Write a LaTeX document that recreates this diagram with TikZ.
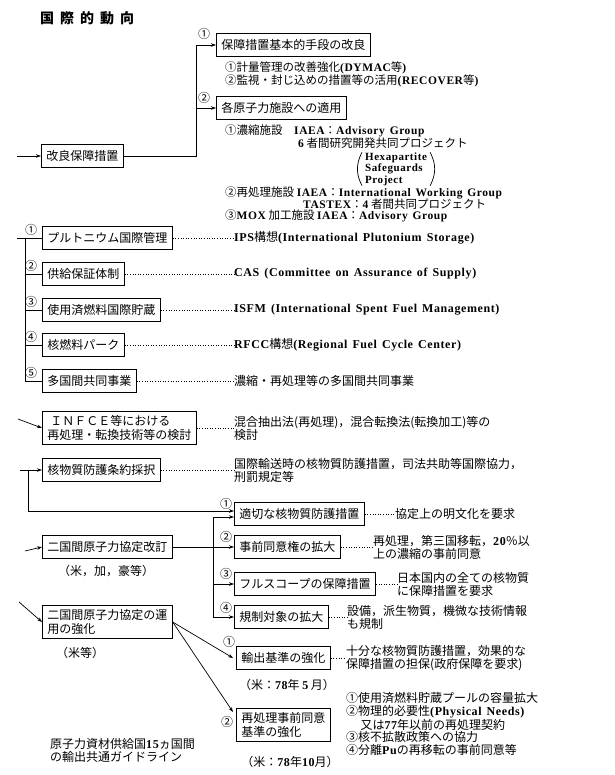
\documentclass[tikz,border=0pt]{standalone}
\usepackage{fontspec}
\setmainfont{Noto Sans CJK JP}
\newfontfamily\enfont{Liberation Serif}[LetterSpace=5, WordSpace=1.4]
\newcommand\eng[1]{{\enfont\bfseries #1}}
\usetikzlibrary{arrows.meta}

\begin{document}
\begin{tikzpicture}[
  x=1pt, y=-1pt,
  box/.style={draw, line width=0.7pt, anchor=west, align=left,
    inner xsep=5pt, inner ysep=3pt, minimum height=23pt,
    font=\fontsize{12}{14}\selectfont},
  note/.style={anchor=west, align=left, inner sep=0pt,
    font=\fontsize{12}{13}\selectfont},
  subnote/.style={note, font=\fontsize{11.5}{12}\selectfont},
  num/.style={inner sep=0pt, font=\fontsize{12}{12}\selectfont},
  heading/.style={anchor=west, inner sep=0pt, font=\fontsize{14}{14}\selectfont\bfseries},
  link/.style={line width=0.7pt},
  dotline/.style={line width=0.8pt, dash pattern=on 0.8pt off 1.8pt},
  >={Stealth[length=5pt, width=3.5pt]}
]
  \useasboundingbox (0,0) rectangle (614,775);

  \node[heading] (head) at (40,18) {国\hspace{6pt}際\hspace{6pt}的\hspace{6pt}動\hspace{6pt}向};

  \node[box] (kairyo) at (41,156) {改良保障措置};
  \node[box] (kihon) at (216,45) {保障措置基本的手段の改良};
  \node[box] (tekiyo) at (216,108) {各原子力施設への適用};
  \node[num] (k1) at (204,34) {①};
  \node[num] (k2) at (204,98) {②};
  \coordinate (kairyoIn) at (17,156);
  \coordinate (bus1) at (196,156);
  \draw[link,->] (kairyoIn) -- (kairyo);
  \draw[link,->] (kairyo) -- (bus1) |- (kihon);
  \draw[link,->] (bus1 |- tekiyo.west) -- (tekiyo);

  \node[subnote] (kihonT) at (225,74)
    {①計量管理の改善強化\eng{(DYMAC}等\eng{)}\\②監視・封じ込めの措置等の活用\eng{(RECOVER}等\eng{)}};
  \node[subnote] (noshuku) at (225,131) {①濃縮施設\quad\eng{IAEA}：\eng{Advisory Group}};
  \node[subnote] (hexa) at (298,143) {\eng{6} 者間研究開発共同プロジェクト};
  \node[subnote, inner xsep=3pt, font=\fontsize{11}{11.5}\selectfont] (hexaP) at (362,169)
    {\eng{Hexapartite}\\\eng{Safeguards}\\\eng{Project}};
  \draw[link] (hexaP.north west) to[bend right=28] (hexaP.south west);
  \draw[link] (hexaP.north east) to[bend left=28] (hexaP.south east);
  \node[subnote] (saishori) at (225,193) {②再処理施設 \eng{IAEA}：\eng{International Working Group}};
  \node[subnote] (tastex) at (303,204) {\eng{TASTEX}：\eng{4} 者間共同プロジェクト};
  \node[subnote] (mox) at (225,216) {③\eng{MOX} 加工施設 \eng{IAEA}：\eng{Advisory Group}};

  \node[box] (pu) at (42,238) {プルトニウム国際管理};
  \node[box] (cas) at (42,274) {供給保証体制};
  \node[box] (isfm) at (42,310) {使用済燃料国際貯蔵};
  \node[box] (park) at (42,345) {核燃料パーク};
  \node[box] (multi) at (42,381) {多国間共同事業};
  \node[num] (p1) at (31,230) {①};
  \node[num] (p2) at (31,266) {②};
  \node[num] (p3) at (31,302) {③};
  \node[num] (p4) at (31,337) {④};
  \node[num] (p5) at (31,373) {⑤};
  \coordinate (puIn) at (17,238);
  \coordinate (bus2) at (25,238);
  \draw[link] (puIn) -- (pu);
  \draw[link] (bus2) |- (multi);
  \draw[link] (bus2 |- cas.west) -- (cas);
  \draw[link] (bus2 |- isfm.west) -- (isfm);
  \draw[link] (bus2 |- park.west) -- (park);

  \node[note] (puT) at (234,238) {\eng{IPS}構想\eng{(International Plutonium Storage)}};
  \node[note] (casT) at (234,274) {\eng{CAS (Committee on Assurance of Supply)}};
  \node[note] (isfmT) at (234,310) {\eng{ISFM (International Spent Fuel Management)}};
  \node[note] (parkT) at (234,345) {\eng{RFCC}構想\eng{(Regional Fuel Cycle Center)}};
  \node[note] (multiT) at (234,381) {濃縮・再処理等の多国間共同事業};
  \draw[dotline] (pu) -- (puT);
  \draw[dotline] (cas) -- (casT);
  \draw[dotline] (isfm) -- (isfmT);
  \draw[dotline] (park) -- (parkT);
  \draw[dotline] (multi) -- (multiT);

  \node[box, inner ysep=4pt] (infce) at (42,428)
    {\hspace{3pt}ＩＮＦＣＥ等における\\再処理・転換技術等の検討};
  \node[note] (infceT) at (234,428) {混合抽出法(再処理)，混合転換法(転換加工)等の\\検討};
  \coordinate (infceIn) at (18,419);
  \draw[link,->] (infceIn) -- (infce.west);
  \draw[dotline] (infce) -- (infceT);

  \node[box] (kakubutsu) at (42,470) {核物質防護条約採択};
  \node[note] (kakubutsuT) at (234,470) {国際輸送時の核物質防護措置，司法共助等国際協力，\\刑罰規定等};
  \coordinate (kakuIn) at (20,470);
  \coordinate (kakuDown) at (28,470);
  \draw[link,->] (kakuIn) -- (kakubutsu);
  \draw[dotline] (kakubutsu) -- (kakubutsuT);

  \node[box] (tekisetsu) at (234,514) {適切な核物質防護措置};
  \node[box] (jizen) at (234,547) {事前同意権の拡大};
  \node[box] (fullscope) at (234,584) {フルスコープの保障措置};
  \node[box] (kisei) at (234,617) {規制対象の拡大};
  \node[num] (m1) at (226,504) {①};
  \node[num] (m2) at (226,537) {②};
  \node[num] (m3) at (226,574) {③};
  \node[num] (m4) at (226,608) {④};
  \coordinate (bus3) at (213,617);
  \draw[link,->] (kakuDown) |- ([yshift=3pt]tekisetsu.west);
  \draw[link,<->] ([yshift=-3pt]tekisetsu.west) -- ([yshift=-3pt]tekisetsu.west -| bus3) |- (kisei);
  \draw[link,->] (bus3 |- fullscope.west) -- (fullscope);

  \node[note] (tekisetsuT) at (395,514) {協定上の明文化を要求};
  \node[note] (jizenT) at (373,547) {再処理，第三国移転，\eng{20}％以\\上の濃縮の事前同意};
  \node[note] (fullscopeT) at (397,584) {日本国内の全ての核物質\\に保障措置を要求};
  \node[note] (kiseiT) at (347,617) {設備，派生物質，機微な技術情報\\も規制};
  \draw[dotline] (tekisetsu) -- (tekisetsuT);
  \draw[dotline] (jizen) -- (jizenT);
  \draw[dotline] (fullscope) -- (fullscopeT);
  \draw[dotline] (kisei) -- (kiseiT);

  \node[box] (kaitei) at (42,547) {二国間原子力協定改訂};
  \node[note, anchor=center] (kaiteiSub) at (106,571) {（米，加，豪等）};
  \coordinate (kaiteiIn) at (25,551);
  \draw[link,->] (kaiteiIn) -- (kaitei.west);
  \draw[link,->] (kaitei) -- (jizen);

  \node[box, inner ysep=4pt] (unyo) at (42,622) {二国間原子力協定の運\\用の強化};
  \node[note, anchor=center] (unyoSub) at (80,653) {（米等）};
  \coordinate (unyoIn) at (19,602);
  \draw[link,->] (unyoIn) -- (unyo.west);

  \node[box] (yushutsu) at (236,658) {輸出基準の強化};
  \node[num] (y1) at (229,642) {①};
  \node[note, anchor=center] (yushutsuSub) at (287,685) {（米：\eng{78}年 \eng{5} 月）};
  \node[note] (yushutsuT) at (346,658) {十分な核物質防護措置，効果的な\\保障措置の担保(政府保障を要求)};
  \draw[link,->] (unyo.east) -- ([xshift=-3pt]yushutsu.west);
  \draw[dotline] (yushutsu) -- (yushutsuT);

  \node[box, inner ysep=4pt] (saiT) at (236,725) {再処理事前同意\\基準の強化};
  \node[num] (s2) at (227,722) {②};
  \node[note, anchor=center] (saiTSub) at (290,762) {（米：\eng{78}年\eng{10}月）};
  \node[note, font=\fontsize{12}{12.5}\selectfont] (saiTT) at (346,724)
    {①使用済燃料貯蔵プールの容量拡大\\②物理的必要性\eng{(Physical Needs)}\\\hspace{1.2em}又は\eng{77}年以前の再処理契約\\③核不拡散政策への協力\\④分離\eng{Pu}の再移転の事前同意等};
  \draw[link,->] (unyo.east) -- ([xshift=-3pt,yshift=-4pt]saiT.north west);

  \node[note] (guide) at (50,750) {原子力資材供給国\eng{15}ヵ国間\\の輸出共通ガイドライン};
\end{tikzpicture}
\end{document}
